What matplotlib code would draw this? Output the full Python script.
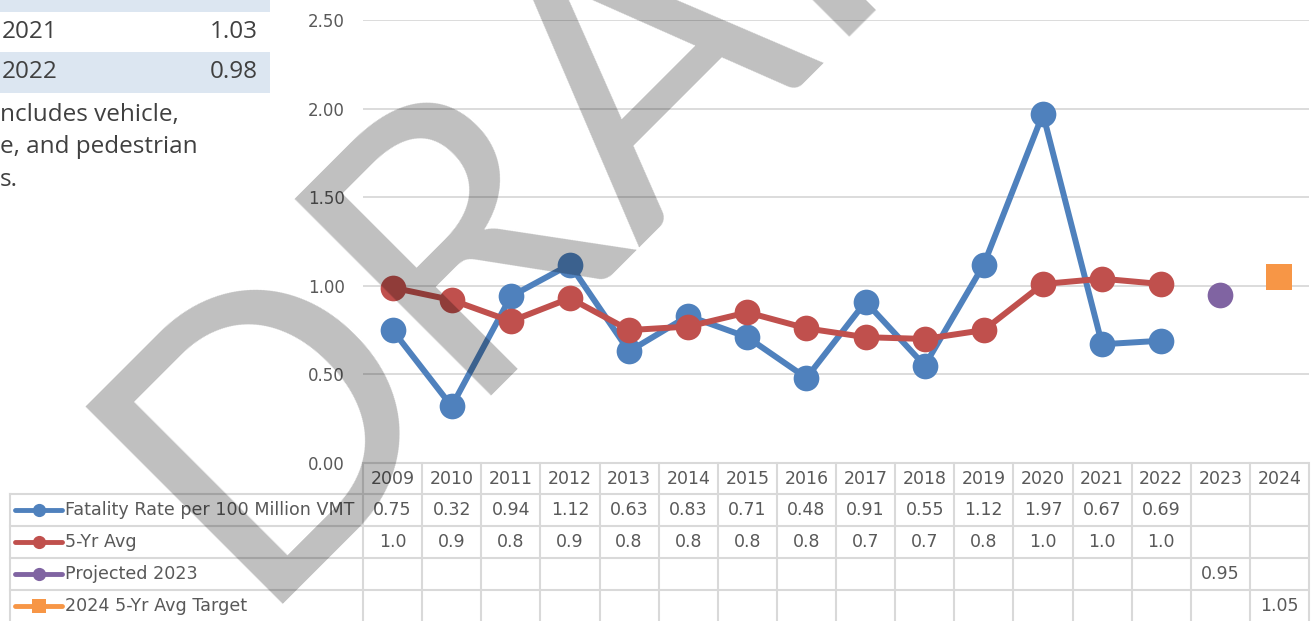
import numpy as np
import matplotlib
matplotlib.use("Agg")
import matplotlib.pyplot as plt
from matplotlib import transforms
from matplotlib.patches import Rectangle

# ---- data ----
years = [str(y) for y in range(2009, 2025)]
fatality_rate = [0.75, 0.32, 0.94, 1.12, 0.63, 0.83, 0.71, 0.48, 0.91, 0.55, 1.12, 1.97, 0.67, 0.69, np.nan, np.nan]
five_yr_avg = [0.99, 0.92, 0.80, 0.93, 0.75, 0.77, 0.85, 0.76, 0.71, 0.70, 0.75, 1.01, 1.04, 1.01, np.nan, np.nan]
projected_2023 = [np.nan] * 14 + [0.95, np.nan]
target_2024 = [np.nan] * 15 + [1.05]

series_names = ["Fatality Rate per 100 Million VMT", "5-Yr Avg", "Projected 2023", "2024 5-Yr Avg Target"]
series_values = [fatality_rate, five_yr_avg, projected_2023, target_2024]
series_colors = ["#4F81BD", "#C0504D", "#8064A2", "#F79646"]
series_markers = ["o", "o", "o", "s"]
series_fmt = ["{:.2f}", "{:.1f}", "{:.2f}", "{:.2f}"]

side_years = ["2021", "2022"]
side_values = ["1.03", "0.98"]
side_note = ["ncludes vehicle,", "e, and pedestrian", "s."]

y_ticks = [0.0, 0.5, 1.0, 1.5, 2.0, 2.5]

W, H = 1316, 621
text_color = "#595959"
grid_color = "#D9D9D9"

fig = plt.figure(figsize=(W / 100, H / 100), dpi=100)

# overlay in pixel coordinates (y down) for the table and side panel
ov = fig.add_axes([0, 0, 1, 1])
ov.set_xlim(0, W)
ov.set_ylim(H, 0)
ov.axis("off")

# plot area
px_left, px_right, px_zero, px_top = 363, 1309, 463, 20
ax = fig.add_axes([px_left / W, (H - px_zero) / H, (px_right - px_left) / W, (px_zero - px_top) / H])
ax.set_facecolor("none")
ax.set_zorder(2)
x = np.arange(len(years))
ax.set_xlim(-0.5, len(years) - 0.5)
ax.set_ylim(0, 2.5)
ax.set_yticks(y_ticks)
ax.set_yticklabels([f"{t:.2f}" for t in y_ticks], fontsize=12, color=text_color)
ax.tick_params(axis="y", length=0, pad=13)
ax.set_xticks([])
for s in ax.spines.values():
    s.set_visible(False)
ax.grid(True, axis="y", color=grid_color, linewidth=1.3)
ax.set_axisbelow(True)

for vals, color, mk in zip(series_values, series_colors, series_markers):
    ax.plot(x, vals, color=color, linewidth=4.3, marker=mk, markersize=18.5,
            markeredgewidth=0, clip_on=False)

# ---- data table ----
tr = transforms.blended_transform_factory(ax.transData, ov.transData)
row_lines = [463, 494, 526, 558, 590]
row_centers = [479, 510, 542, 574, 606]
table_left = 10

ov.plot([px_left, 1307], [row_lines[0], row_lines[0]], color=grid_color, lw=1.5)
for yl in row_lines[1:]:
    ov.plot([table_left, 1307], [yl, yl], color=grid_color, lw=1.5)
ov.plot([table_left, table_left], [row_lines[1], H], color=grid_color, lw=1.5)
for i in range(len(years) + 1):
    ax.plot([i - 0.5, i - 0.5], [row_lines[0], H], color=grid_color, lw=1.5,
            transform=tr, clip_on=False)

for i, yr in enumerate(years):
    ov.text(i, row_centers[0], yr, transform=tr, ha="center", va="center",
            fontsize=12.5, color=text_color)

for r, (name, vals, color, mk, fmt) in enumerate(zip(series_names, series_values,
                                                      series_colors, series_markers, series_fmt)):
    yc = row_centers[r + 1]
    ov.plot([15, 62], [yc, yc], color=color, lw=3.5, solid_capstyle="round")
    ov.plot([38.5], [yc], marker=mk, color=color, markersize=9.5, markeredgewidth=0)
    ov.text(65, yc, name, ha="left", va="center", fontsize=12.6, color=text_color)
    for i, v in enumerate(vals):
        if not np.isnan(v):
            ov.text(i, yc, fmt.format(v), transform=tr, ha="center", va="center",
                    fontsize=12.5, color=text_color)

# ---- side panel (partial table + note) ----
side_font = "Open Sans"
ov.add_patch(Rectangle((0, 0), 270, 12, color="#DCE6F1", lw=0))
ov.add_patch(Rectangle((0, 52), 270, 41, color="#DCE6F1", lw=0))
for yr, val, yc in zip(side_years, side_values, [32, 72]):
    ov.text(2, yc, yr, ha="left", va="center", fontsize=17.5, color="#404040",
            family=side_font)
    ov.text(258, yc, val, ha="right", va="center", fontsize=17.5, color="#404040",
            family=side_font)
for line, yc in zip(side_note, [115, 147, 180]):
    ov.text(0, yc, line, ha="left", va="center", fontsize=17.5, color="#404040",
            family=side_font)

# ---- watermark ----
fig.text(247 / W, (H - 604) / H, "DRAFT", rotation=45, rotation_mode="anchor",
         ha="left", va="baseline", fontsize=280, color="black", alpha=0.25,
         family="Lato", zorder=100)

fig.savefig("out.png", dpi=100)
plt.close(fig)
